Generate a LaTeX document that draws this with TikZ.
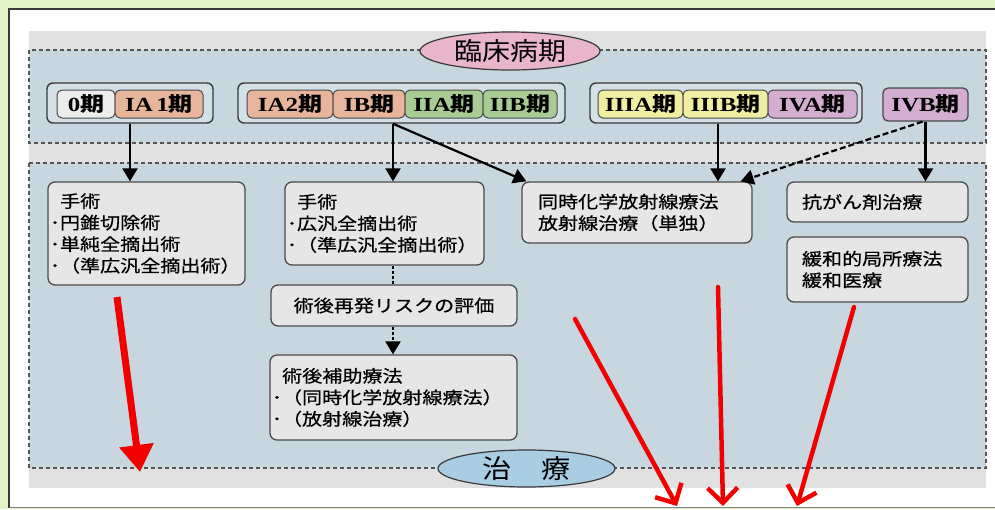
\documentclass[tikz,border=0pt]{standalone}
\usepackage{fontspec}
\newfontfamily\jp{Noto Sans CJK JP}[FakeStretch=1.2]
\newfontfamily\jpm{Noto Sans CJK JP}[FakeStretch=1.18,FakeBold=0.6]
\newfontfamily\jpt{Noto Sans CJK JP}[FakeStretch=1.12]
\newfontfamily\ser{Liberation Serif}[FakeStretch=1.25]
\usetikzlibrary{arrows.meta,shapes.geometric}
\definecolor{greenbg}{HTML}{E2F3C5}
\definecolor{frame}{HTML}{3A3A3A}
\definecolor{panel}{HTML}{E1E1E1}
\definecolor{regionbg}{HTML}{C8D7DF}
\definecolor{regionline}{HTML}{555555}
\definecolor{grpfill}{HTML}{D3E0E6}
\definecolor{pinkE}{HTML}{E9B5CB}
\definecolor{blueE}{HTML}{A9CEE3}
\definecolor{stzero}{HTML}{ECECEC}
\definecolor{salmon}{HTML}{E7B49C}
\definecolor{grn}{HTML}{A8CC93}
\definecolor{yel}{HTML}{F0EEA2}
\definecolor{pur}{HTML}{D3AED1}
\definecolor{boxfill}{HTML}{E6E6E6}
\definecolor{boxline}{HTML}{4A4A4A}
\definecolor{redA}{HTML}{F20000}
\newcommand\stg[1]{{\ser\bfseries #1}{\jp\bfseries 期}}
\begin{document}
\begin{tikzpicture}[x=1pt,y=-1pt,
  region/.style={fill=regionbg, draw=regionline, line width=1.1pt, dash pattern=on 4pt off 3pt},
  grp/.style={draw=frame, line width=1.4pt, rounded corners=6pt, fill=grpfill, inner sep=0pt, minimum height=40pt},
  stage/.style={draw=boxline, line width=1pt, rounded corners=5pt, minimum height=28pt, inner sep=0pt, font=\fontsize{20}{20}\selectfont},
  tbox/.style={draw=boxline, line width=1.3pt, rounded corners=7pt, fill=boxfill, inner ysep=0pt, align=left, font=\jpm\fontsize{17}{21.5}\selectfont},
  lab/.style={ellipse, draw=frame, line width=1.2pt, inner sep=0pt},
  arr/.style={line width=2.2pt, -{Triangle[width=15pt,length=13pt]}},
  darr/.style={arr, dash pattern=on 6pt off 3pt},
  dline/.style={line width=2.2pt, dash pattern=on 3pt off 2pt},
  redfat/.style={draw=redA, line width=7pt, -{Triangle[width=33pt,length=27pt]}},
  redthin/.style={draw=redA, line width=4.5pt, line cap=round, -{Straight Barb[length=15pt,width=30pt]}}
]
\useasboundingbox (0,0) rectangle (995,509);
% frame and background
\fill[greenbg] (0,0) rectangle (995,509);
\fill[white] (9,9) rectangle (1000,507);
\draw[frame, line width=1.5pt] (1000,9) -- (9,9) -- (9,507.5);
\draw[gray, line width=1.2pt] (9,507.5) -- (1000,507.5);
\fill[panel] (29,31) rectangle (986,488);
\path[region] (29,50) rectangle (986,143);
\path[region] (29,163) rectangle (986,468);
% labels
\node[lab, fill=pinkE, minimum width=180pt, minimum height=38pt] (l1) at (510,51) {\jpt\fontsize{25}{25}\selectfont 臨床病期};
\node[lab, fill=blueE, minimum width=177pt, minimum height=37pt] (l2) at (526.5,468.5) {\jpt\fontsize{26}{26}\selectfont 治　療};
% stage groups
\node[grp, minimum width=166pt] (g1) at (130,103) {};
\node[grp, minimum width=327pt] (g2) at (401.5,103) {};
\node[grp, minimum width=272pt] (g3) at (726,103) {};
\node[stage, fill=stzero, minimum width=58pt] (s0) at (86,104) {\stg{0}};
\node[stage, fill=salmon, minimum width=88pt] (s1) at (159,104) {\stg{IA\,1}};
\node[stage, fill=salmon, minimum width=86pt] (s2) at (290,104) {\stg{IA2}};
\node[stage, fill=salmon, minimum width=72pt] (s3) at (369,104) {\stg{IB}};
\node[stage, fill=grn, minimum width=78pt] (s4) at (444,104) {\stg{IIA}};
\node[stage, fill=grn, minimum width=74pt] (s5) at (520,104) {\stg{IIB}};
\node[stage, fill=yel, minimum width=85pt] (s6) at (640.5,104) {\stg{IIIA}};
\node[stage, fill=yel, minimum width=85pt] (s7) at (725.5,104) {\stg{IIIB}};
\node[stage, fill=pur, minimum width=89pt] (s8) at (812.5,104) {\stg{IVA}};
\node[stage, fill=pur, minimum width=85pt, minimum height=33pt, line width=1.3pt] (s9) at (925.5,104.5) {\stg{IVB}};
% treatment boxes
\node[tbox, text width=193pt, inner xsep=2pt, minimum height=103pt] (bA) at (146.5,233.5)
  {\hspace*{0.6em}手術\\･円錐切除術\\･単純全摘出術\\･（準広汎全摘出術）};
\node[tbox, text width=195pt, inner xsep=2pt, minimum height=83pt] (bB) at (384.5,223.5)
  {\hspace*{0.6em}手術\\･広汎全摘出術\\･（準広汎全摘出術）};
\node[tbox, text width=236pt, inner xsep=5pt, minimum height=41pt, align=center] (bC) at (394,305.5)
  {術後再発リスクの評価};
\node[tbox, text width=243pt, inner xsep=2pt, minimum height=85pt] (bD) at (393.5,397.5)
  {\hspace*{0.6em}術後補助療法\\･（同時化学放射線療法）\\･（放射線治療）};
\node[tbox, text width=198pt, inner xsep=16pt, minimum height=61pt] (bE) at (637,212.5)
  {同時化学放射線療法\\放射線治療（単独）};
\node[tbox, text width=151pt, inner xsep=15pt, minimum height=40pt] (bF) at (877.5,202)
  {抗がん剤治療};
\node[tbox, text width=151pt, inner xsep=15pt, minimum height=65pt] (bG) at (877.5,269.5)
  {緩和的局所療法\\緩和医療};
% connectors
\coordinate (xa) at (130,0);
\coordinate (xb) at (393,0);
\coordinate (xe) at (718,0);
\draw[arr] (g1.south -| xa) -- (bA.north -| xa);
\draw[arr] (g2.south -| xb) -- (bB.north -| xb);
\draw[arr] (g2.south -| xb) -- ([xshift=5pt]bE.north west);
\draw[arr] (g3.south -| xe) -- (bE.north -| xe);
\draw[darr] ([xshift=-3pt]s9.south) -- ([xshift=-12pt]bE.north east);
\draw[arr] (s9.south) -- (bF.north -| s9.south);
\draw[dline] (bB.south -| xb) -- (bC.north -| xb);
\draw[arr, dash pattern=on 3pt off 2pt] (bC.south -| xb) -- (bD.north -| xb);
% red arrows
\coordinate (r1s) at (117,297); \coordinate (r1e) at (140,472);
\coordinate (r2s) at (575,319); \coordinate (r2e) at (677,506);
\coordinate (r3s) at (718,287); \coordinate (r3e) at (723,506);
\coordinate (r4s) at (854,307); \coordinate (r4e) at (797,506);
\draw[redfat] (r1s) -- (r1e);
\draw[redthin] (r2s) -- (r2e);
\draw[redthin] (r3s) -- (r3e);
\draw[redthin] (r4s) -- (r4e);
\end{tikzpicture}
\end{document}
